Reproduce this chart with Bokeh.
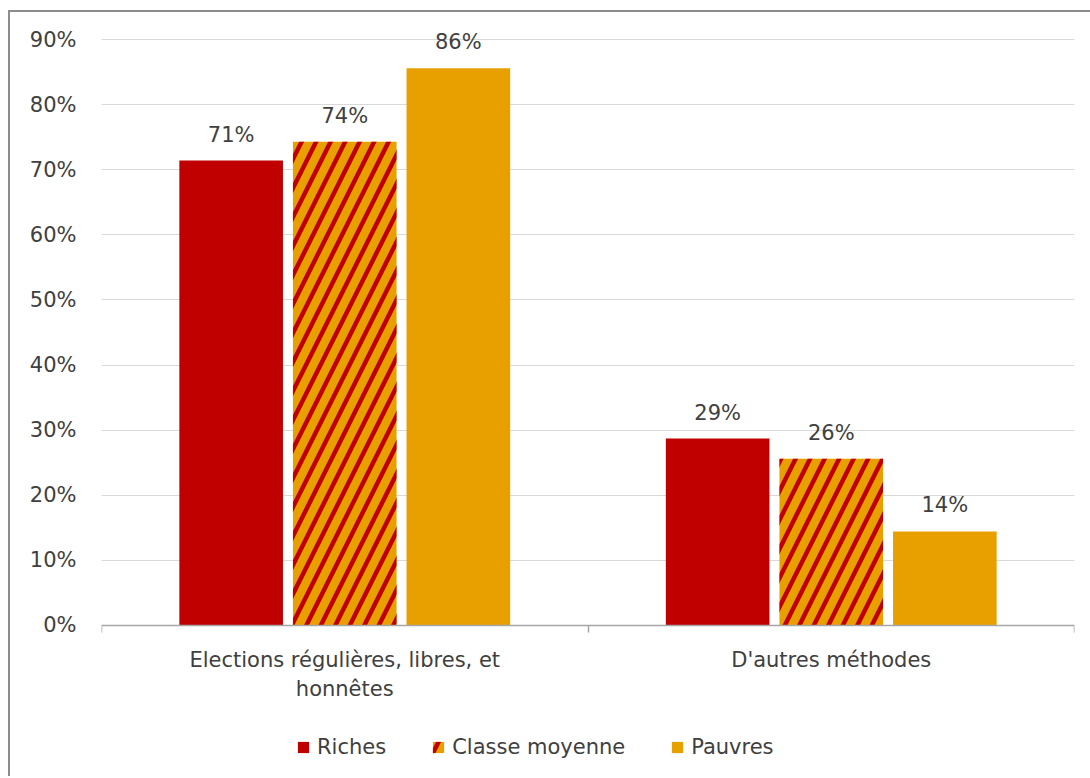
import numpy as np
from bokeh.plotting import figure
from bokeh.models import (ColumnDataSource, Range1d, FixedTicker, LinearAxis,
                          Legend, LegendItem, LabelSet, CustomJSTickFormatter)
from bokeh.core.properties import value
from bokeh.transform import dodge
from bokeh.embed import file_html
from bokeh.resources import INLINE

categories = ["Elections régulières, libres, et\nhonnêtes", "D'autres méthodes"]
series = ["Riches", "Classe moyenne", "Pauvres"]
riches = [71.4, 28.7]
classe_moyenne = [74.3, 25.6]
pauvres = [85.6, 14.45]
y_ticks = [0, 10, 20, 30, 40, 50, 60, 70, 80, 90]

RED = "#C00000"
ORANGE = "#E8A000"
TXT = "#404040"
FONT = "DejaVu Sans"
FS = "21px"

x = [i + 0.5 for i in range(len(categories))]
src = ColumnDataSource(dict(
    x=x,
    riches=riches, classe=classe_moyenne, pauvres=pauvres,
    l_riches=[f"{round(v)}%" for v in riches],
    l_classe=[f"{round(v)}%" for v in classe_moyenne],
    l_pauvres=[f"{round(v)}%" for v in pauvres],
))

p = figure(frame_width=973, frame_height=750, x_range=Range1d(0, 2), y_range=Range1d(-23.2, 92),
           output_backend="svg", toolbar_location=None,
           min_border_left=91, min_border_right=16, min_border_top=14, min_border_bottom=0,
           margin=(10, 0, 0, 8),
           styles={"border-left": "2px solid #8c8c8c", "border-top": "2px solid #8c8c8c"})
p.xaxis.visible = False
p.yaxis.visible = False
p.outline_line_color = None
p.background_fill_color = "white"
p.border_fill_color = "white"

# axes
yax = LinearAxis(ticker=FixedTicker(ticks=y_ticks, minor_ticks=[]))
yax.formatter = CustomJSTickFormatter(code="return tick.toFixed(0) + '%';")
yax.axis_line_color = None
yax.major_tick_line_color = None
yax.major_tick_out = 0
yax.major_label_standoff = 25
yax.major_label_text_font = FONT
yax.major_label_text_font_size = FS
yax.major_label_text_color = TXT
p.add_layout(yax, "left")

xax = LinearAxis(ticker=FixedTicker(ticks=x, minor_ticks=[0, 1, 2]), fixed_location=0)
xax.major_label_overrides = {x[i]: c for i, c in enumerate(categories)}
xax.axis_line_color = "#a6a6a6"
xax.axis_line_width = 1.5
xax.major_tick_line_color = None
xax.minor_tick_line_color = "#a6a6a6"
xax.minor_tick_line_width = 1.5
xax.minor_tick_out = 7
xax.minor_tick_in = 0
xax.major_tick_out = 0
xax.major_tick_in = 0
xax.major_label_standoff = 16
xax.major_label_text_font = FONT
xax.major_label_text_font_size = FS
xax.major_label_text_color = TXT
p.add_layout(xax, "below")

p.ygrid.ticker = FixedTicker(ticks=y_ticks)
p.ygrid.grid_line_color = "#d9d9d9"
p.ygrid.grid_line_width = 1.2
p.xgrid.visible = False

W = 0.213
OFF = 0.2335
r1 = p.vbar(x=dodge("x", -OFF), top="riches", width=W, source=src, fill_color=RED, line_color=None)
r2 = p.vbar(x=dodge("x", 0), top="classe", width=W, source=src, fill_color=ORANGE, line_color=None,
            hatch_pattern="/", hatch_color=RED, hatch_scale=29, hatch_weight=4.5)
r3 = p.vbar(x=dodge("x", OFF), top="pauvres", width=W, source=src, fill_color=ORANGE, line_color=None)

for off, col, lab in [(-OFF, "riches", "l_riches"), (0, "classe", "l_classe"), (OFF, "pauvres", "l_pauvres")]:
    ls = LabelSet(x=dodge("x", off), y=col, text=lab, source=src, y_offset=19,
                  text_align="center", text_baseline="alphabetic",
                  text_font=value(FONT), text_font_size=value(FS), text_color=TXT)
    p.add_layout(ls)

legend = Legend(items=[LegendItem(label=s, renderers=[r]) for s, r in zip(series, [r1, r2, r3])],
                orientation="horizontal", location=(195, 17),
                label_text_font=FONT, label_text_font_size=FS, label_text_color=TXT,
                glyph_width=14, glyph_height=14, label_standoff=7, spacing=45,
                border_line_color=None, background_fill_alpha=0, margin=0, padding=4)
p.add_layout(legend, "center")

open("out.html", "w").write(file_html(p, INLINE))
